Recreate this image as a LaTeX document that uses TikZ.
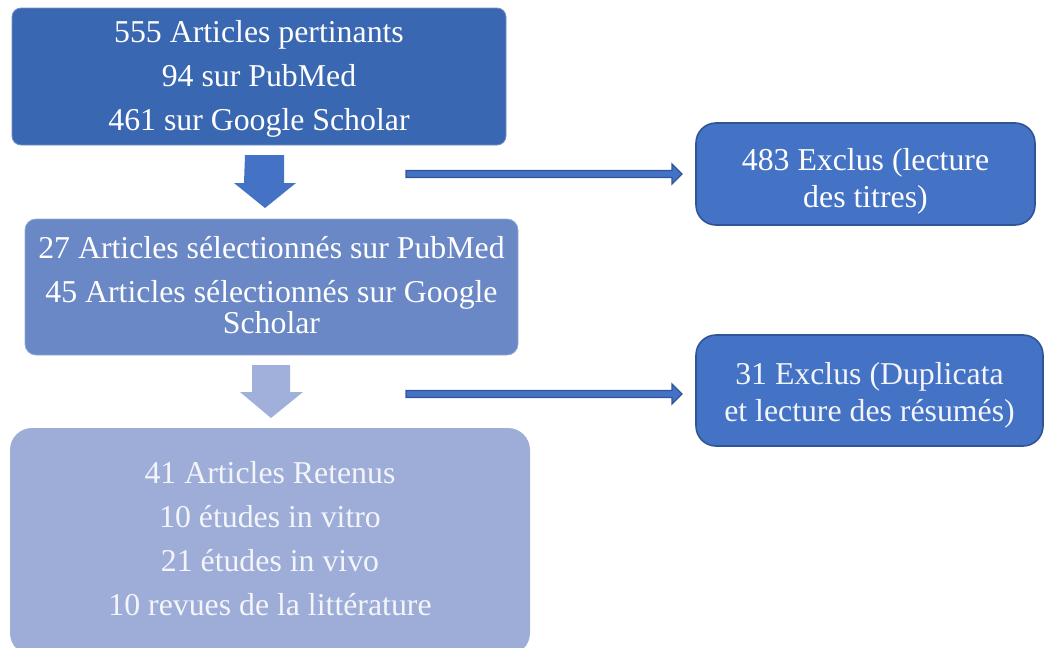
\documentclass[tikz,border=0pt]{standalone}
\usepackage{fontspec}
\setmainfont{Liberation Serif}
\usetikzlibrary{calc}
\definecolor{cA}{HTML}{3A67B1}
\definecolor{cAb}{HTML}{7391CC}
\definecolor{cB}{HTML}{6A87C6}
\definecolor{cBb}{HTML}{93A8D6}
\definecolor{cC}{HTML}{9DADD8}
\definecolor{cR}{HTML}{4472C4}
\definecolor{cRb}{HTML}{2F5597}
\definecolor{cArrowTwo}{HTML}{A0B0DA}
\definecolor{txtC}{HTML}{F4F5FA}
\tikzset{
  basebox/.style={inner sep=0pt},
  boxone/.style={basebox, fill=cA, draw=cAb, line width=0.8pt, rounded corners=9pt},
  boxtwo/.style={basebox, fill=cB, draw=cBb, line width=0.8pt, rounded corners=11pt},
  boxthree/.style={basebox, fill=cC, rounded corners=22pt},
  exclbox/.style={basebox, fill=cR, draw=cRb, line width=1.6pt, rounded corners=20pt},
  boxtext/.style={align=center, inner sep=0pt, text=white},
  harrowshape/.style={fill=cR, draw=cRb, line width=1.2pt, line join=miter},
}
\begin{document}
\begin{tikzpicture}[x=1pt,y=-1pt]
\useasboundingbox (0,0) rectangle (1045,648);
\begin{scope}
\clip (0,0) rectangle (1045,648);
% main boxes
\node[boxone, minimum width=494pt, minimum height=137pt] (b1) at (259,76.5) {};
\node[boxtext, font=\fontsize{31.8}{44}\selectfont] (b1t) at ($(b1.center)+(0,2)$)
  {555 Articles pertinants\\94 sur PubMed\\461 sur Google Scholar};
\node[boxtwo, minimum width=493pt, minimum height=136pt] (b2) at (271.5,287) {};
\node[boxtext, font=\fontsize{31.8}{31}\selectfont] (b2t) at ($(b2.center)+(0,-2)$)
  {27 Articles sélectionnés sur PubMed\\[13pt]45 Articles sélectionnés sur Google\\Scholar};
\node[boxthree, minimum width=520pt, minimum height=227pt] (b3) at (270,541.5) {};
\node[boxtext, text=txtC, font=\fontsize{31.8}{44}\selectfont] (b3t) at ($(b3.center)+(0,-3)$)
  {41 Articles Retenus\\10 études in vitro\\21 études in vivo\\10 revues de la littérature};
% exclusion boxes
\node[exclbox, minimum width=339pt, minimum height=102pt] (e1) at (865.5,174) {};
\node[boxtext, font=\fontsize{31.8}{37}\selectfont] (e1t) at ($(e1.center)+(0,7)$)
  {483 Exclus (lecture\\des titres)};
\node[exclbox, minimum width=347pt, minimum height=111pt] (e2) at (869.5,390.5) {};
\node[boxtext, text=txtC, font=\fontsize{31.8}{37}\selectfont] (e2t) at ($(e2.center)+(0,5)$)
  {31 Exclus (Duplicata\\et lecture des résumés)};
% down block arrows
\coordinate (d1) at (264.5,155);
\fill[cR] (d1) ++(-19.5,0) -- ++(39,0) -- ++(0,28) -- ++(12,0) -- (265,208) -- (234,183) -- (244,183) -- cycle;
\coordinate (d2) at (271,365);
\fill[cArrowTwo] (d2) ++(-19,0) -- ++(38,0) -- ++(0,27) -- ++(13,0) -- (271,418) -- (240,392) -- (252,392) -- cycle;
% horizontal arrows
\coordinate (h1s) at (406,174);
\coordinate (h1e) at (682,174);
\draw[harrowshape] ($(h1s)+(0,-3.5)$) -- ($(h1e)+(-10,-3.5)$) -- ($(h1e)+(-10,-10)$) -- (h1e)
  -- ($(h1e)+(-10,10)$) -- ($(h1e)+(-10,3.5)$) -- ($(h1s)+(0,3.5)$) -- cycle;
\coordinate (h2s) at (406,394);
\coordinate (h2e) at (682,394);
\draw[harrowshape] ($(h2s)+(0,-3.5)$) -- ($(h2e)+(-10,-3.5)$) -- ($(h2e)+(-10,-10)$) -- (h2e)
  -- ($(h2e)+(-10,10)$) -- ($(h2e)+(-10,3.5)$) -- ($(h2s)+(0,3.5)$) -- cycle;
\end{scope}
\end{tikzpicture}
\end{document}
